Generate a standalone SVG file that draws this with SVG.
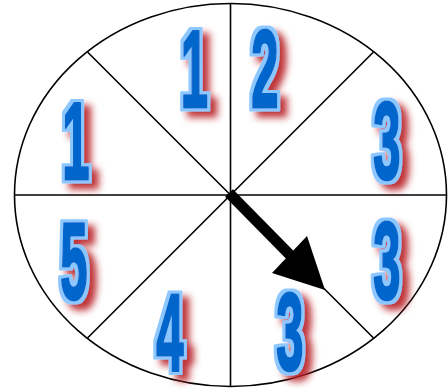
<svg xmlns="http://www.w3.org/2000/svg" width="448" height="389" viewBox="0 0 448 389">
<defs>
<style>
.wl{fill:none;stroke:#000;stroke-width:1.6}
.num{font-family:"Liberation Sans",Arial,sans-serif;font-weight:bold;font-size:109px;fill:#0066cc;stroke:#0066cc;stroke-width:3;stroke-linejoin:round;text-anchor:middle}
</style>
<filter id="sh" x="-60%" y="-30%" width="220%" height="160%">
<feMorphology in="SourceAlpha" operator="dilate" radius="2.6" result="d"/>
<feFlood flood-color="#8cc8ff"/>
<feComposite operator="in" in2="d" result="ol"/>
<feGaussianBlur in="d" stdDeviation="3.6"/>
<feOffset dx="7" dy="6" result="o"/>
<feFlood flood-color="#b82025" flood-opacity="0.9"/>
<feComposite operator="in" in2="o" result="s"/>
<feMerge><feMergeNode in="s"/><feMergeNode in="ol"/><feMergeNode in="SourceGraphic"/></feMerge>
</filter>
</defs>
<rect width="448" height="389" fill="#fff"/>
<g id="wheel">
<ellipse class="wl" cx="230.5" cy="195" rx="216" ry="191.5"/>
<line class="wl" x1="230.5" y1="3.5" x2="230.5" y2="386.5"/>
<line class="wl" x1="14.5" y1="195" x2="446.5" y2="195"/>
<line class="wl" x1="87.5" y1="52" x2="373.5" y2="338"/>
<line class="wl" x1="373.5" y1="52" x2="87.5" y2="338"/>
</g>
<g id="n1top" filter="url(#sh)"><text class="num" transform="translate(194.5,107) scale(0.45,1)">1</text></g>
<g id="n2" filter="url(#sh)"><text class="num" transform="translate(265,107) scale(0.45,1)">2</text></g>
<g id="n1left" filter="url(#sh)"><text class="num" transform="translate(76,179) scale(0.45,1)">1</text></g>
<g id="n3a" filter="url(#sh)"><text class="num" transform="translate(387,179) scale(0.45,1)">3</text></g>
<g id="n3b" filter="url(#sh)"><text class="num" transform="translate(387,299) scale(0.45,1)">3</text></g>
<g id="n5" filter="url(#sh)"><text class="num" transform="translate(74,299) scale(0.45,1)">5</text></g>
<g id="n4" filter="url(#sh)"><text class="num" transform="translate(170,370) scale(0.45,1)">4</text></g>
<g id="n3c" filter="url(#sh)"><text class="num" transform="translate(290,370) scale(0.45,1)">3</text></g>
<g id="pointer">
<line x1="229" y1="193" x2="292" y2="257" stroke="#000" stroke-width="11"/>
<polygon points="307,236 325,290 272,273" fill="#000"/>
</g>
</svg>
